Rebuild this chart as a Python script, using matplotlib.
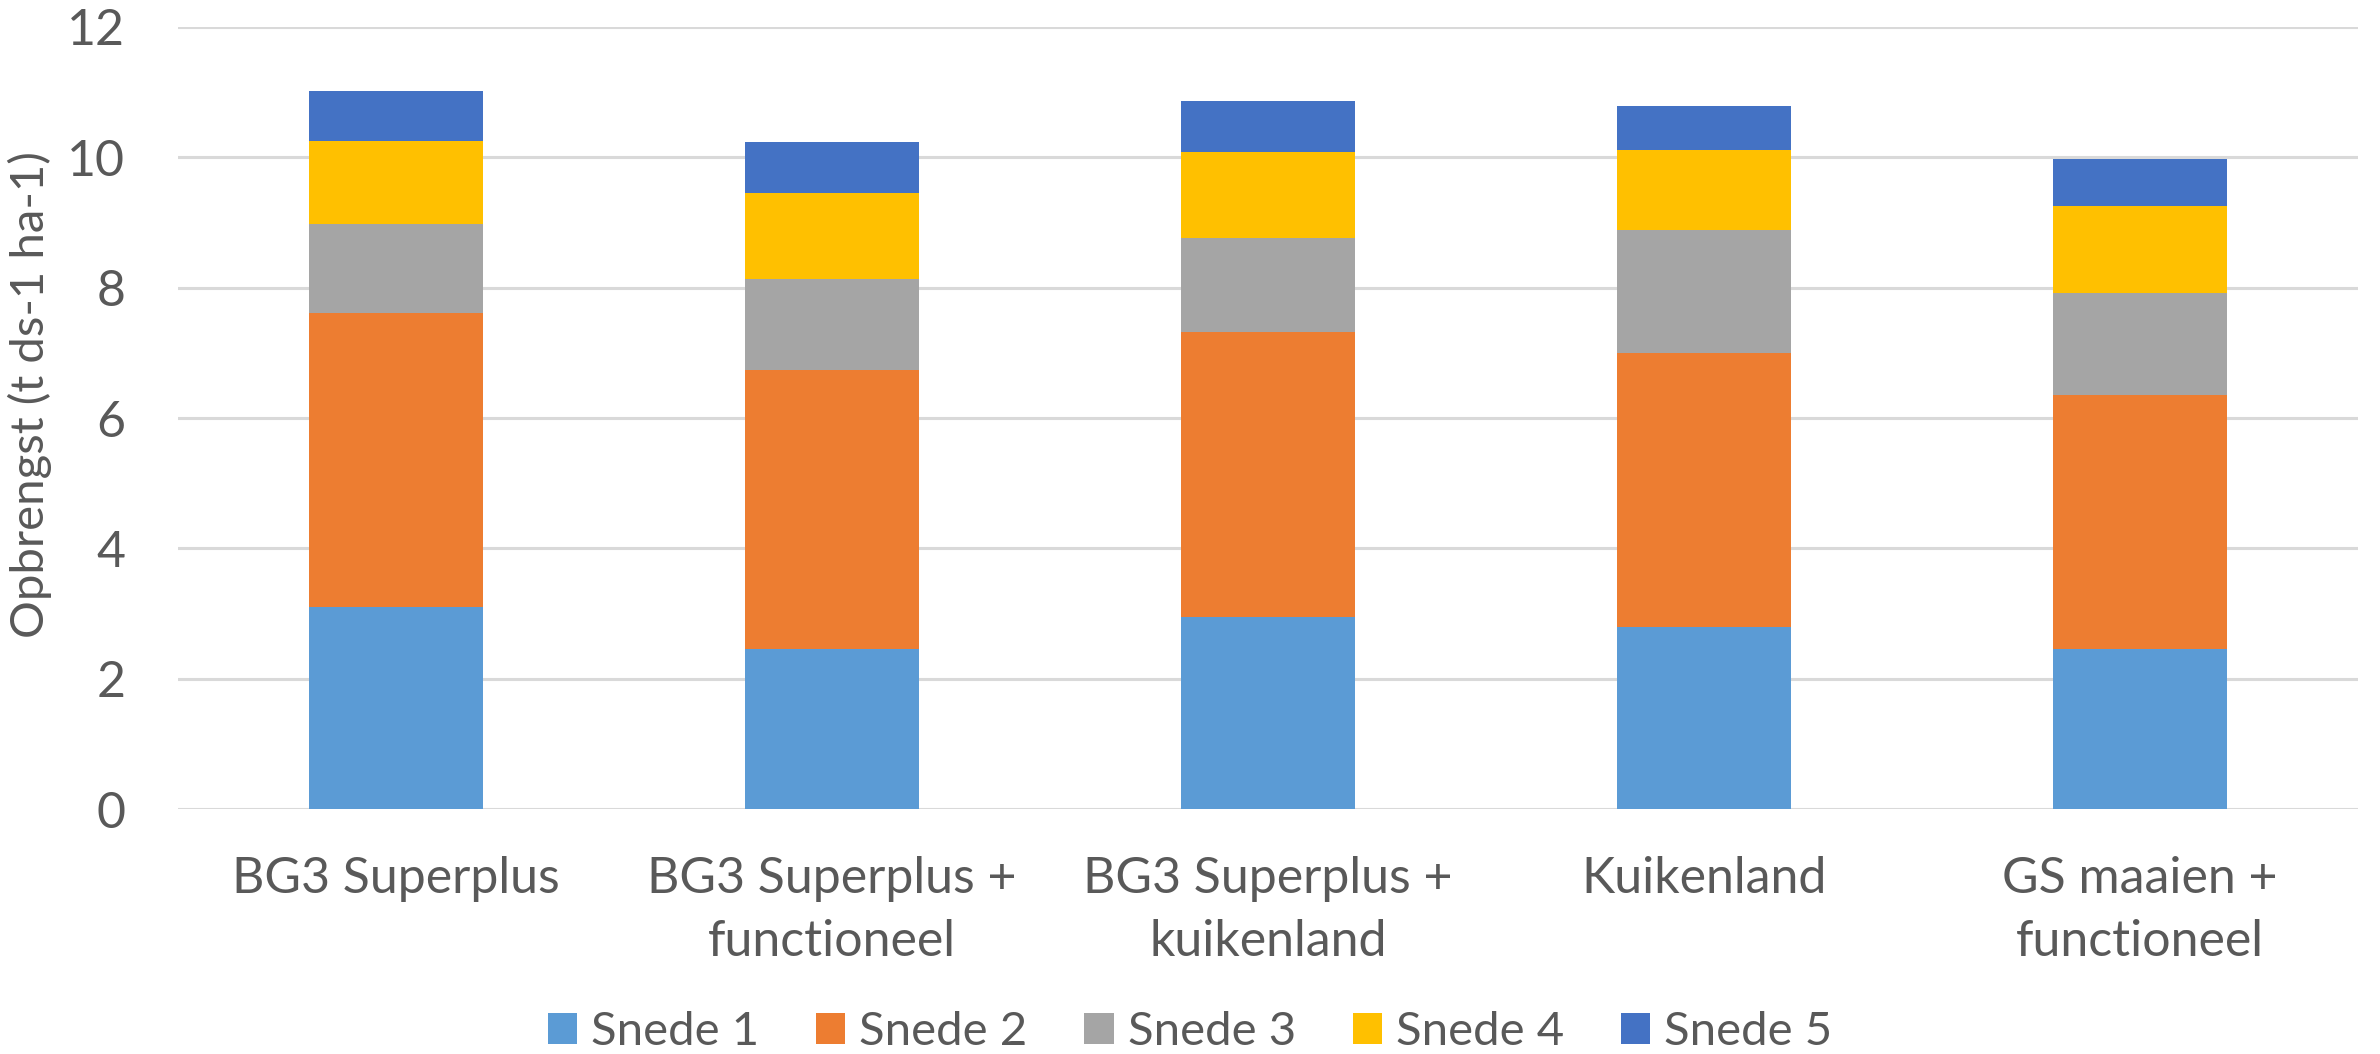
import matplotlib
matplotlib.use("Agg")
import matplotlib.pyplot as plt
import numpy as np

# ---------- data ----------
categories = ["BG3 Superplus", "BG3 Superplus +\nfunctioneel",
              "BG3 Superplus +\nkuikenland", "Kuikenland",
              "GS maaien +\nfunctioneel"]
snede_1 = [3.10, 2.46, 2.95, 2.80, 2.46]
snede_2 = [4.51, 4.27, 4.37, 4.19, 3.89]
snede_3 = [1.37, 1.41, 1.44, 1.89, 1.57]
snede_4 = [1.27, 1.32, 1.32, 1.24, 1.34]
snede_5 = [0.77, 0.77, 0.79, 0.66, 0.72]
series_names = ["Snede 1", "Snede 2", "Snede 3", "Snede 4", "Snede 5"]
yticks = [0, 2, 4, 6, 8, 10, 12]

colors = ["#5B9BD5", "#ED7D31", "#A5A5A5", "#FFC000", "#4472C4"]
text_grey = "#595959"

plt.rcParams['font.family'] = ['Lato', 'DejaVu Sans']

fig = plt.figure(figsize=(23.8, 10.54), dpi=100)
ax = fig.add_axes([0.0748, 0.2324, 0.916, 0.742])

x = np.arange(len(categories))
bottom = np.zeros(len(categories))
for name, vals, c in zip(series_names,
                         [snede_1, snede_2, snede_3, snede_4, snede_5],
                         colors):
    ax.bar(x, vals, width=0.4, bottom=bottom, color=c, label=name, zorder=3)
    bottom += np.array(vals)

ax.set_xlim(-0.5, len(categories) - 0.5)
ax.set_ylim(0, 12)
ax.set_yticks(yticks)
ax.set_yticklabels([str(t) for t in yticks], fontsize=36, color=text_grey)
ax.set_xticks(x)
ax.set_xticklabels(categories, fontsize=36, color=text_grey, linespacing=1.45)
ax.tick_params(axis='both', length=0)
ax.tick_params(axis='y', pad=38)
ax.tick_params(axis='x', pad=34)
ax.grid(axis='y', color="#D9D9D9", linewidth=2.2, zorder=0)
for s in ax.spines.values():
    s.set_visible(False)

ax.set_ylabel("Opbrengst (t ds-1 ha-1)", fontsize=34, color=text_grey)
ax.yaxis.set_label_coords(-0.058, 0.53)

leg = fig.legend(loc='center', bbox_to_anchor=(0.5, 0.021), ncol=5,
                 frameon=False, fontsize=34, handlelength=0.62,
                 handleheight=0.62, handletextpad=0.3, columnspacing=1.2)
for t in leg.get_texts():
    t.set_color(text_grey)

fig.savefig("out.png", dpi=100)
